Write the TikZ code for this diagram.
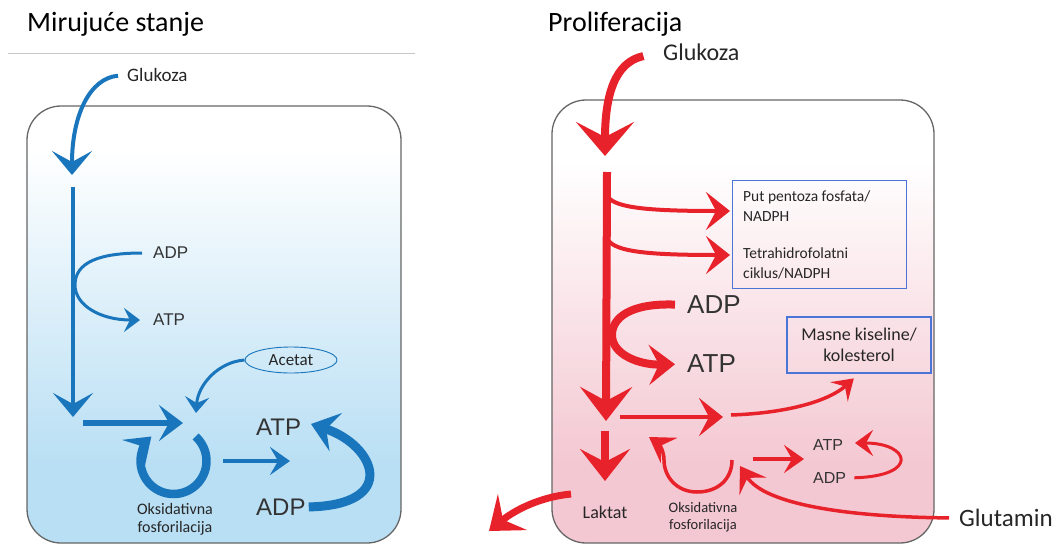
\documentclass[tikz,border=0pt]{standalone}
\usepackage{fontspec}
\setmainfont{Carlito}
\newfontfamily\arialfont{Liberation Sans}
\usepackage{xcolor}
\usetikzlibrary{arrows.meta,shapes.geometric}

\definecolor{cellblue}{HTML}{1A76BC}
\definecolor{cellred}{HTML}{E8222B}
\definecolor{skyfill}{HTML}{B9DFF4}
\definecolor{pinkfill}{HTML}{F4C8D2}
\definecolor{boxblue}{HTML}{4A74D6}

\pgfdeclareverticalshading{skyshade}{100bp}{color(0bp)=(skyfill); color(34bp)=(skyfill); color(70bp)=(white); color(100bp)=(white)}
\pgfdeclareverticalshading{rosyshade}{100bp}{color(0bp)=(pinkfill); color(34bp)=(pinkfill); color(68bp)=(white); color(100bp)=(white)}

\begin{document}
\begin{tikzpicture}[x=1pt, y=-1pt,
  every node/.style={inner sep=0pt},
  lab/.style={font=\fontsize{#1}{#1}\selectfont, text=black!85},
  mol/.style={font=\arialfont\fontsize{#1}{#1}\selectfont, text=black!80},
  cell/.style={draw=black!60, line width=1.3pt, rounded corners=34},
  bflow/.style={draw=cellblue, line width=#1},
  rflow/.style={draw=cellred, line width=#1},
  chev/.style n args={3}{-{Stealth[length=#1, width=#2, inset=#3]}},
  infobox/.style={draw=boxblue, line width=1.3pt}]
\useasboundingbox (0,0) rectangle (1059,546);

% resting cell
\node[lab=28, anchor=base west, text=black] (restT) at (27,31) {Mirujuće stanje};
\draw[black!22, line width=1pt] (8,53) -- (415,53);
\shade[shading=skyshade, rounded corners=34] (27,106) rectangle (401,543);
\draw[cell] (27,106) rectangle (401,543);

\node[lab=19, anchor=west] (gluL) at (127,75) {Glukoza};
\coordinate (inL) at (72,175);
\draw[bflow=4, chev={24}{40}{11}, shorten <=9pt] (gluL.west) .. controls (90,78) and (72,115) .. (inL);
\coordinate (topL) at (73,187);
\coordinate (botL) at (73,417);
\draw[bflow=4, chev={24}{40}{11}] (topL) -- (botL);

\node[mol=17, anchor=west] (adpL) at (153,253) {ADP};
\node[mol=17, anchor=west] (atpL) at (153,320) {ATP};
\draw[bflow=3, chev={16}{24}{6}, shorten <=11pt, shorten >=13pt] (adpL.west) .. controls (100,253) and (75,262) .. (75,285) .. controls (75,305) and (100,320) .. (atpL.west);

\node[ellipse, draw=cellblue, line width=0.9pt, lab=17, minimum width=92, minimum height=26, inner sep=1pt] (acet) at (291,360) {Acetat};
\coordinate (acetIn) at (196,413);
\draw[bflow=3, chev={16}{24}{6}] (acet.west) .. controls (218,362) and (198,385) .. (acetIn);

\coordinate (hL1) at (83,423);
\coordinate (hL2) at (183,423);
\draw[bflow=6.5, chev={24}{36}{10}] (hL1) -- (hL2);

\coordinate (oxL) at (173.5,461);
\draw[bflow=8.5, chev={24}{34}{10}] (oxL) ++(-48:33) arc[start angle=-48, end angle=228, radius=33];
\node[align=center, font=\fontsize{16}{18}\selectfont, text=black!85] (oxLbl) at (175,519) {Oksidativna\\fosforilacija};

\coordinate (aL1) at (223,461);
\coordinate (aL2) at (290,461);
\draw[bflow=4.5, chev={20}{28}{8}] (aL1) -- (aL2);
\node[mol=24, anchor=west] (atpB) at (256,427) {ATP};
\node[mol=24, anchor=west] (adpB) at (256,507) {ADP};
\coordinate (atpBin) at (311,424);
\draw[bflow=9, chev={26}{40}{10}, shorten <=3pt] (adpB.east) .. controls (400,505) and (375,445) .. (atpBin);

% proliferating cell
\node[lab=28, anchor=base west, text=black] (prolT) at (548,31) {Proliferacija};
\shade[shading=rosyshade, rounded corners=34] (552,100) rectangle (934,543);
\draw[cell] (552,100) rectangle (934,543);

\node[lab=24, anchor=west] (gluR) at (663,52) {Glukoza};
\coordinate (inR) at (605,156);
\draw[rflow=8, chev={34}{58}{15}, shorten <=20pt] (gluR.west) .. controls (615,62) and (605,95) .. (inR);
\coordinate (topR) at (607,172);
\coordinate (botR) at (606,421);
\draw[rflow=8, chev={34}{52}{14}] (topR) -- (botR);

\node[infobox, minimum width=174, minimum height=108, anchor=north west] (nadphBox) at (732,180) {};
\node[anchor=north west, align=left, font=\fontsize{15.5}{19.5}\selectfont, text=black!85] (pentT) at (743,191) {Put pentoza fosfata/\\NADPH};
\node[anchor=north west, align=left, font=\fontsize{15.5}{19.5}\selectfont, text=black!85] (tetraT) at (743,248) {Tetrahidrofolatni\\ciklus/NADPH};
\coordinate (br1) at (608,197);
\coordinate (br2) at (608,240);
\coordinate (pentIn) at (730,211);
\coordinate (tetraIn) at (730,255);
\draw[rflow=4, chev={24}{38}{10}] (br1) .. controls (616,208) and (650,211) .. (pentIn);
\draw[rflow=4, chev={24}{38}{10}] (br2) .. controls (616,252) and (650,255) .. (tetraIn);

\node[mol=26, anchor=west] (adpR) at (687,305) {ADP};
\node[mol=26, anchor=west] (atpR) at (687,364) {ATP};
\draw[rflow=8, chev={26}{40}{10}, shorten <=12pt, shorten >=12pt] (adpR.west) .. controls (630,303) and (612,318) .. (612,335) .. controls (612,355) and (640,365) .. (atpR.west);

\node[infobox, minimum width=144, minimum height=56, anchor=center] (fatBox) at (859,345) {};
\node[align=center, font=\fontsize{18}{21}\selectfont, text=black!85] (fatT) at (fatBox.center) {Masne kiseline/\\kolesterol};

\coordinate (hR1) at (620,417);
\coordinate (hR2) at (723,417);
\draw[rflow=4.5, chev={24}{38}{10}] (hR1) -- (hR2);
\coordinate (toFat) at (731,415);
\draw[rflow=3.5, chev={20}{26}{8}, shorten >=7pt] (toFat) .. controls (790,413) and (830,400) .. (fatBox.south);

\coordinate (lakTop) at (605,431);
\coordinate (lakIn) at (605,481);
\draw[rflow=8, chev={32}{50}{13}] (lakTop) -- (lakIn);
\node[lab=18] (lakT) at (605,512) {Laktat};
\coordinate (outS) at (571,494);
\coordinate (outE) at (489,531);
\draw[rflow=7, chev={30}{46}{12}] (outS) .. controls (540,497) and (515,510) .. (outE);

\coordinate (oxR1) at (732,460);
\coordinate (oxR2) at (649,437);
\draw[rflow=3.5, chev={24}{30}{9}] (oxR1) .. controls (732,480) and (717,492) .. (697,492) .. controls (677,492) and (664,477) .. (664,460) .. controls (664,450) and (658,443) .. (oxR2);
\node[align=center, font=\fontsize{14.5}{17.5}\selectfont, text=black!85] (oxRLbl) at (703,517) {Oksidativna\\fosforilacija};

\coordinate (aR1) at (753,459);
\coordinate (aR2) at (804,459);
\draw[rflow=3.5, chev={20}{28}{8}] (aR1) -- (aR2);
\node[mol=16, anchor=west] (atpS) at (813,445) {ATP};
\node[mol=16, anchor=west] (adpS) at (813,478) {ADP};
\coordinate (atpSin) at (855,443);
\draw[rflow=3, chev={18}{26}{7}, shorten <=8pt] (adpS.east) .. controls (920,476) and (910,443) .. (atpSin);

\node[lab=25, anchor=west] (glutT) at (959,518) {Glutamin};
\coordinate (glutIn) at (740,466);
\draw[rflow=3.5, chev={24}{32}{10}, shorten <=10pt] (glutT.west) .. controls (850,517) and (765,505) .. (glutIn);
\end{tikzpicture}
\end{document}
